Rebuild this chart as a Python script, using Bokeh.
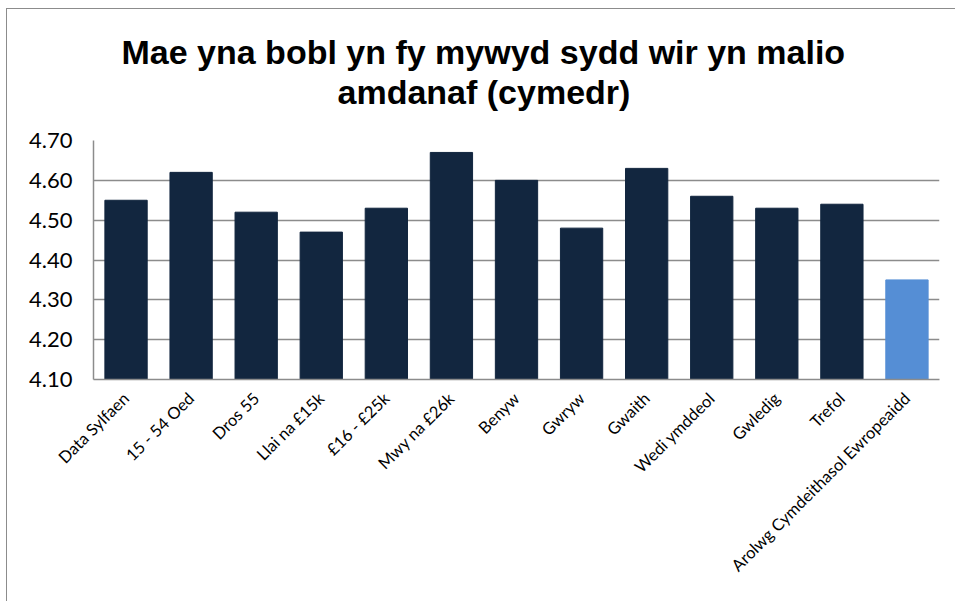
from bokeh.plotting import figure
from bokeh.models import FactorRange, Range1d, FixedTicker, NumeralTickFormatter, Title, ColumnDataSource
from bokeh.embed import file_html
from bokeh.resources import INLINE
import math

categories = ["Data Sylfaen", "15 - 54 Oed", "Dros 55", "Llai na £15k", "£16 - £25k",
              "Mwy na £26k", "Benyw", "Gwryw", "Gwaith", "Wedi ymddeol", "Gwledig",
              "Trefol", "Arolwg Cymdeithasol Ewropeaidd"]
values = [4.55, 4.62, 4.52, 4.47, 4.53, 4.67, 4.60, 4.48, 4.63, 4.56, 4.53, 4.54, 4.35]
colors = ["#12263F"] * 12 + ["#558ED5"]
y_ticks = [4.10, 4.20, 4.30, 4.40, 4.50, 4.60, 4.70]
title_lines = ["Mae yna bobl yn fy mywyd sydd wir yn malio", "amdanaf (cymedr)"]

src = ColumnDataSource(dict(cat=categories, val=values, color=colors))

p = figure(width=949, height=593, output_backend="svg", toolbar_location=None,
           x_range=FactorRange(*categories, range_padding=0),
           y_range=Range1d(4.10, 4.70),
           min_border_left=86, min_border_right=17, min_border_top=131, min_border_bottom=223)
p.styles = {"border-left": "1px solid #8c8c8c", "border-top": "1px solid #8c8c8c",
            "margin-left": "6px", "margin-top": "8px"}

p.vbar(x="cat", top="val", bottom=4.10, width=0.65, color="color", source=src)

p.outline_line_color = None
p.xgrid.grid_line_color = None
p.ygrid.grid_line_color = "#8c8c8c"
p.ygrid.grid_line_width = 1.5

p.yaxis.ticker = FixedTicker(ticks=y_ticks)
p.yaxis.formatter = NumeralTickFormatter(format="0.00")
p.yaxis.major_label_text_font = "Lato"
p.yaxis.major_label_text_font_size = "22px"
p.yaxis.major_label_text_color = "#000000"
p.yaxis.major_tick_line_color = None
p.yaxis.minor_tick_line_color = None
p.yaxis.axis_line_color = "#8c8c8c"
p.yaxis.axis_line_width = 1.5
p.yaxis.major_label_standoff = 15

p.xaxis.major_label_orientation = math.pi / 4
p.xaxis.major_label_text_font = "Lato"
p.xaxis.major_label_text_font_size = "16.5px"
p.xaxis.major_label_text_color = "#000000"
p.xaxis.major_tick_line_color = None
p.xaxis.axis_line_color = "#8c8c8c"
p.xaxis.axis_line_width = 1.5
p.xaxis.major_label_standoff = 10

p.title = None
spacer = Title(text=" ", text_font_size="1px", standoff=27)
t2 = Title(text=title_lines[1], align="left", offset=244, text_font="Liberation Sans",
           text_font_size="34px", text_font_style="bold", text_color="#000000", standoff=0)
t1 = Title(text=title_lines[0], align="left", offset=28, text_font="Liberation Sans",
           text_font_size="34px", text_font_style="bold", text_color="#000000", standoff=0)
p.add_layout(spacer, "above")
p.add_layout(t2, "above")
p.add_layout(t1, "above")

open("out.html", "w").write(file_html(p, INLINE))
